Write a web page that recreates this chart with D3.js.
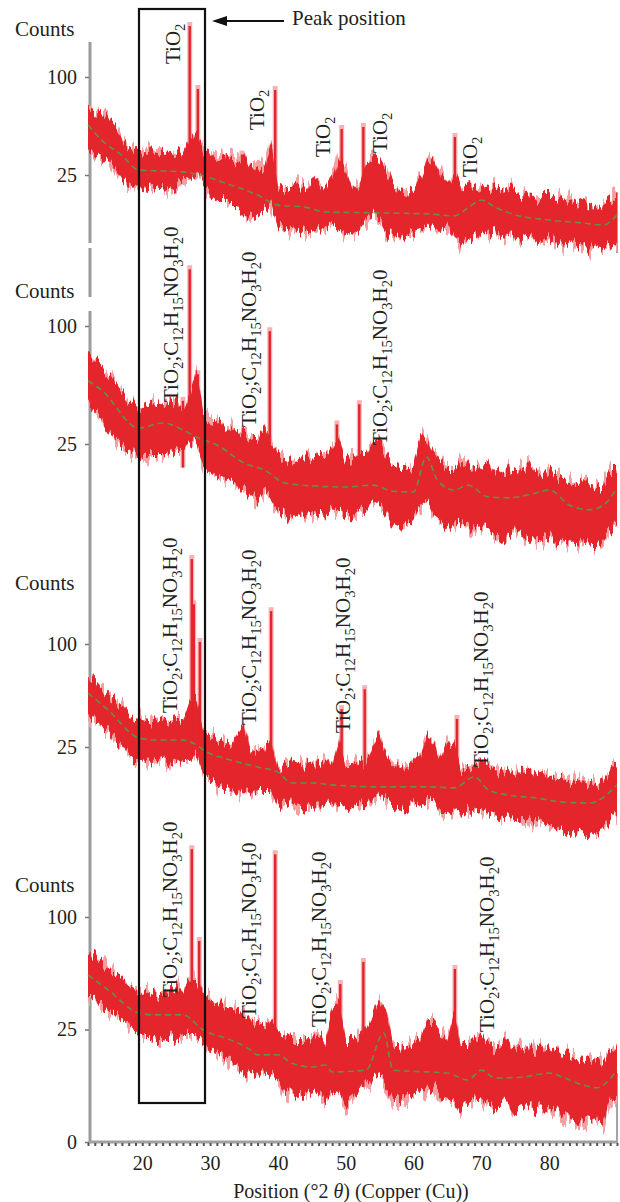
<!DOCTYPE html>
<html><head><meta charset="utf-8">
<script src="https://cdn.jsdelivr.net/npm/d3@7"></script>
<style>
body{margin:0;background:#fff;}
svg{display:block;}
text{font-family:"Liberation Serif","DejaVu Serif","Times New Roman",serif;fill:#231f20;}
</style></head><body>
<svg id="c" width="620" height="1202"></svg>
<script>
// ---------- DATA ----------
const degrees = [12,13,14,15,16,17,18,19,20,21,22,23,24,25,26,27,28,29,30,31,32,33,34,35,36,37,38,39,40,41,42,43,44,45,46,47,48,49,50,51,52,53,54,55,56,57,58,59,60,61,62,63,64,65,66,67,68,69,70,71,72,73,74,75,76,77,78,79,80,81,82,83,84,85,86,87,88,89,90];
const xTickLabels = [20,30,40,50,60,70,80];
const panelTicks = [[25,100],[25,100],[25,100],[0,25,100]];

// panel 1 (upper / lower envelope of the noisy pattern, counts)
const p1Hi = [71,69,67,61,55,47,41,38,39,38,39,37.5,38,39,36,46,53,36,38,34.4,33.2,34.4,32,39,29.2,30.4,27.6,43,20.2,17.9,17.9,20.2,17.9,22.5,20.2,17.9,22.5,36,27.6,17.9,20.2,30.4,33.2,34.4,27.6,20.2,17.9,17.1,17.9,22.5,30.4,36,25,20.2,27.6,17.9,20.2,17.9,20.2,17.9,18.8,17.1,18.8,17.9,15.8,16.7,13.9,15.8,15.8,13.9,14.6,13.9,12,13.1,12,11,12,13.9,15.8];
const p1Lo = [39,39,35,32,27.6,22.5,20.2,17.9,19.3,18.8,19.7,18.8,17.9,19.7,22.5,22.5,26.5,20.2,15.8,13.9,13.9,12,12,8.8,8.2,8.8,10.3,12,6,5.3,4.8,4.4,4.8,4.2,4.8,5.3,6,4.8,4.4,3.8,4.8,7.3,8.8,7.3,3.8,3.8,3.2,3.8,4.4,4.8,5.3,6,4.4,6,3.8,2,2.8,3.2,4.4,3.8,4.4,3.2,4.4,2.8,3.2,3.8,2.8,2.5,3.2,2.5,2,2.8,2,2,1.4,2,1.6,2,2];
const p1Peaks = [[27.0,164,27.6],[28.2,92,30],[34.7,39,20],[39.6,91,12],[39.0,43,15],[49.4,57,10],[52.6,58.6,10],[66.1,51,10]];
const p1Bg = [[12,57],[14,46],[17,36],[19.5,27.6],[26,26.6],[29,24.5],[33,20.2],[37,15.8],[40,12],[44,11.3],[47,9.7],[55,9.4],[62,9.1],[66,8.5],[68,11],[70,13.9],[72,11.3],[75,8.8],[80,7.3],[85,6.5],[88,6],[90,8.8]];

// panel 2
const p2Hi = [75.5,73,70,63,59,53,47,44,41.5,44,45,44,45,47,41.5,50,66,38.8,37.2,36.2,33.7,32.2,31.3,30.3,26.7,26.7,31.3,24.6,20.6,18.7,18,18.7,20.6,18.7,20.6,20.6,24.6,26.7,18.7,19.4,20.6,20.6,26.7,26.7,20.6,16.9,15.2,15.2,16.9,29,26.7,20.6,18.7,15.2,15.2,18.7,16.9,15.2,16.9,18,15.2,13.6,15.2,15.9,15.2,16.9,15.2,12.7,15.2,13.6,12.1,11.5,10.6,12.1,10.6,9.8,10.6,15.2,15.2];
const p2Lo = [44,41.5,36.2,31.3,26.7,24.6,22.5,20.6,19.4,20.6,20.6,20.6,21.3,22.5,22.5,26.7,24.6,16.9,15.2,13.6,12.7,12.1,10.6,9.3,8.1,6.9,9.3,6.9,4.9,4,3.2,4,4,4.5,4,4,4.9,4.9,4,3.5,4.9,4.9,6.9,5.8,4,2.5,2.1,2.5,3.2,5.8,6.9,4,3.2,1.8,2.5,2.9,2.5,1.8,2.1,2.1,1.3,0.87,1.3,1.8,1.3,0.87,1.0,0.87,1.3,0.52,0.87,0.72,0.52,0.87,0.52,0.52,0.87,1.8,2.5];
const p2Peaks = [[27.0,158,26.7],[26.0,49,16],[28.2,66,26],[38.8,99,25],[48.7,36,12],[52.0,47,12]];
const p2Bg = [[12,59],[14,53],[19.5,32.2],[23,34.7],[26,31.3],[28,28],[31,24.6],[35,17.6],[38,15.2],[41,11.2],[45,10.4],[50,10.1],[54,10.6],[57,9],[60,8.8],[61.9,19.8],[63.5,12.1],[66,9.3],[68,10.6],[71,7.6],[74,7.4],[77,8.1],[80,9.3],[83,5.8],[86,4.9],[88,5.8],[90,9.8]];

// panel 3
const p3Hi = [70.5,68,61.8,56.6,53,49.5,43,41,39.8,38.6,39.8,41,38.6,39.8,39.8,53,53,33.9,31.2,28.5,27.5,26,31.2,36.8,23.6,22.6,24.5,28.5,15.1,17,19.1,17.8,17,18.2,17,19.1,17,28.5,17,17,19.1,17,26,31.2,21.3,17,15.8,17,19.1,21.3,31.2,26,19.1,28.5,26,15.1,15.1,17,19.1,17,15.1,14.3,15.1,13.3,15.8,15.1,13.3,14.3,13.3,11.5,12.2,11.5,10.9,11.5,10,10,10.9,15.1,17];
const p3Lo = [43,39.8,36.8,33.9,28.5,26,21.3,19.1,19.1,18.2,19.1,19.9,17,18.2,19.1,19.1,21.3,13.3,11.5,10,8.5,8.5,7.1,8.5,7.1,8.5,8.5,8.5,4.8,4.8,5.9,4.8,4.2,4.8,4.2,4.8,4.8,5.9,4.8,3.8,5.9,4.8,5.9,7.1,5.9,4.2,3.8,4.2,5.9,4.8,5.9,5.9,2.9,2.9,3.8,2.9,3.8,3.8,4.2,3.4,2.9,2.4,2.9,2.1,2.4,2.1,1.8,2.1,1.5,0.94,0.76,0.94,0.53,0.94,0.53,0.76,0.94,2.1,2.9];
const p3Peaks = [[27.3,205,21],[27.6,147,21],[28.5,106,23],[39.0,139,19],[49.4,49.5,6],[52.8,64,6],[66.4,43,5]];
const p3Bg = [[12,58],[15,46],[19.5,29.6],[22,28.5],[26,28.5],[28,26],[29,23.6],[33,19.1],[37,16.2],[40,14.3],[42,10.6],[45,10.6],[48,10],[55,9.4],[62,9.4],[66,9.1],[69,12.6],[71,8.5],[74,7.1],[78,6.4],[82,5.4],[86,5.2],[90,10]];

// panel 4
const p4Hi = [67.6,69,64,58.4,55.1,53.1,48.7,45.6,42.7,44.4,42.7,42.7,45.6,48.7,44.4,51.8,51.8,42.7,39.8,38.2,37.1,35.5,34.4,31.9,29.4,27,27,29.4,24.8,22.6,20.6,20.6,20.6,21.4,22.6,20.6,34.4,39.8,20.6,20.6,22.6,24.8,31.9,39.8,34.4,18.6,16.7,17.5,18.6,20.6,29.4,29.4,22.6,20.6,34.4,18.6,18.6,20.6,22.6,18.6,16.7,18.6,20.6,18.6,16.7,17.5,16.7,18.6,16.7,17.5,15,15,13.9,13.3,12.6,13.3,11.7,16.7,18.6];
const p4Lo = [42.7,39.8,37.1,34.4,31.9,29.4,27,24.8,22.6,22.6,20.6,20.6,22.6,20.6,22.6,22.6,22.6,18.6,16.7,16,13.9,13.3,11.7,10.2,8.9,8.1,10.2,8.9,7.6,5.3,4.4,4.4,4.4,4.4,4.9,3.8,5.3,4.9,2.7,3.5,5.3,6.4,7.6,8.9,6.4,3.5,3.5,3.8,4.4,5.3,5.3,6.4,4.4,3.5,3.5,2,2.7,3.5,3.8,2.7,2,2.7,3.5,2,2.3,2.7,2,2.7,2,2.3,1.4,0.96,1.1,0.96,0.79,0.96,0.57,3.5,4.4];
const p4Peaks = [[27.3,174,25],[28.4,83,25],[39.6,168,15],[49.2,51.8,6],[52.6,66.9,6],[66.1,61.9,5]];
const p4Bg = [[12,55.1],[15,45.6],[19.5,32.9],[22,31.9],[26,31.9],[29,24.8],[33,20.6],[36,16.7],[37,15],[40,15],[42,12.3],[45,11.1],[47,11.7],[48,9.7],[53,10.2],[55.6,23.5],[57,10.2],[62,9.7],[65,9.4],[68,7.6],[70,10.2],[72,8.1],[76,8.3],[78,8.9],[80,9.4],[82,8.3],[85,6.4],[87,5.8],[90,10.2]];

const formulaTiO2 = "TiO{2}";
const formulaMix = "TiO{2};C{12}H{15}NO{3}H{2}0";
const panelLabels = [
  [formulaTiO2, formulaTiO2, formulaTiO2, formulaTiO2, formulaTiO2],
  [formulaMix, formulaMix, formulaMix],
  [formulaMix, formulaMix, formulaMix, formulaMix],
  [formulaMix, formulaMix, formulaMix, formulaMix]
];
const yTitle = "Counts";
const peakNote = "Peak position";

// ---------- LAYOUT ----------
const layout = {
  xLeft: 88, xRight: 617, axisX: 90, xAxisY: 1142,
  panels: [
    {y0: 273, y100: 77, countsY: 36},
    {y0: 562, y100: 326, countsY: 298},
    {y0: 850, y100: 644, countsY: 590},
    {y0: 1142, y100: 917, countsY: 892}
  ],
  labelAnchors: [
    [[180,64],[264,130],[330,157],[387,153],[477,177]],
    [[178,402],[256,427],[387,445]],
    [[177,713],[256,725],[350,733],[488,767]],
    [[177,997],[256,1018],[326,1027],[494,1032]]
  ],
  axisSegments: [[42,243],[248,297],[311,1143]],
  rightSegments: [[192,253],[1073,1143]],
  box: {x: 139, y: 9, w: 66, h: 1094}
};

const panelsData = [
  {hi: p1Hi, lo: p1Lo, peaks: p1Peaks, bg: p1Bg},
  {hi: p2Hi, lo: p2Lo, peaks: p2Peaks, bg: p2Bg},
  {hi: p3Hi, lo: p3Lo, peaks: p3Peaks, bg: p3Bg},
  {hi: p4Hi, lo: p4Lo, peaks: p4Peaks, bg: p4Bg}
];

// ---------- DRAW ----------
const svg = d3.select("#c");
const SERIF = "Liberation Serif, DejaVu Serif, serif";
const x = d3.scaleLinear().domain([12, 90]).range([layout.xLeft, layout.xRight]);

const RED = "#e4252b", PINK = "#f3a0a3", GREEN = "#3fae52";

// texture filters (visual jitter of the band edges, vertical streaks)
const defs = svg.append("defs");
function jitterFilter(id, seed, scale, freqX) {
  const f = defs.append("filter").attr("id", id)
    .attr("x", "-2%").attr("y", "-40%").attr("width", "104%").attr("height", "180%")
    .attr("color-interpolation-filters", "sRGB");
  f.append("feTurbulence").attr("type", "fractalNoise")
    .attr("baseFrequency", `${freqX} 0.004`).attr("numOctaves", 2).attr("seed", seed).attr("result", "t");
  f.append("feColorMatrix").attr("in", "t").attr("type", "matrix")
    .attr("values", "0 0 0 0 0.5  2.2 0 0 0 -0.6  0 0 0 0 0  0 0 0 0 1").attr("result", "m");
  f.append("feDisplacementMap").attr("in", "SourceGraphic").attr("in2", "m")
    .attr("scale", scale).attr("xChannelSelector", "R").attr("yChannelSelector", "G");
}
jitterFilter("jitPink", 7, 22, 0.26);
jitterFilter("jitRed", 3, 13, 0.3);

function chemText(g, str, fs) {
  const t = g.append("text").attr("font-size", fs).attr("font-family", SERIF);
  const tokens = str.split(/(\{[^}]+\})/).filter(s => s.length);
  let prevSub = false;
  const shift = fs * 0.26;
  tokens.forEach(tok => {
    const isSub = tok.startsWith("{");
    const ts = t.append("tspan").text(isSub ? tok.slice(1, -1) : tok);
    if (isSub) { ts.attr("font-size", fs * 0.7).attr("dy", prevSub ? 0 : shift); }
    else if (prevSub) { ts.attr("dy", -shift); }
    prevSub = isSub;
  });
  return t;
}

// axis lines (gray)
const axG = svg.append("g");
layout.axisSegments.forEach(s => {
  axG.append("line").attr("x1", layout.axisX).attr("x2", layout.axisX)
    .attr("y1", s[0]).attr("y2", s[1]).attr("stroke", "#9b9b9b").attr("stroke-width", 3);
});
layout.rightSegments.forEach(s => {
  axG.append("line").attr("x1", layout.xRight).attr("x2", layout.xRight)
    .attr("y1", s[0]).attr("y2", s[1]).attr("stroke", "#a5a5a5").attr("stroke-width", 2);
});

panelsData.forEach((pd, i) => {
  const P = layout.panels[i];
  const y = d3.scaleSqrt().domain([0, 100]).range([P.y0, P.y100]);
  const g = svg.append("g");

  const rows = degrees.map((d, k) => ({d, hi: pd.hi[k], lo: pd.lo[k]}));
  const area = d3.area().x(r => x(r.d)).y0(r => y(r.lo)).y1(r => y(r.hi)).curve(d3.curveLinear);

  // light fringe
  g.append("path").datum(rows).attr("d", area)
    .attr("fill", PINK).attr("filter", "url(#jitPink)");

  // peaks halo
  g.selectAll(".ph").data(pd.peaks).join("line")
    .attr("x1", p => x(p[0])).attr("x2", p => x(p[0]))
    .attr("y1", p => y(p[2])).attr("y2", p => y(p[1]))
    .attr("stroke", PINK).attr("stroke-width", 5).attr("stroke-opacity", 0.8);

  // core band
  g.append("path").datum(rows).attr("d", area)
    .attr("fill", RED).attr("filter", "url(#jitRed)");

  g.selectAll(".pk").data(pd.peaks).join("line")
    .attr("x1", p => x(p[0])).attr("x2", p => x(p[0]))
    .attr("y1", p => y(p[2])).attr("y2", p => y(p[1]) + 4)
    .attr("stroke", RED).attr("stroke-width", 2.4);

  const bgLine = d3.line().x(p => x(p[0])).y(p => y(p[1])).curve(d3.curveMonotoneX);
  g.append("path").datum(pd.bg).attr("d", bgLine)
    .attr("fill", "none").attr("stroke", GREEN).attr("stroke-width", 1.6)
    .attr("stroke-dasharray", "6,4").attr("opacity", 0.8);

  // y axis ticks
  const ax = d3.axisLeft(y).tickValues(panelTicks[i]).tickSize(4).tickPadding(8).tickFormat(d3.format("d"));
  const ag = svg.append("g").attr("transform", `translate(${layout.axisX - 1},0)`).call(ax);
  ag.select(".domain").remove();
  ag.selectAll(".tick line").attr("stroke", "#777").attr("stroke-width", 1.5);
  ag.selectAll(".tick text").attr("font-size", 20).attr("fill", "#231f20").attr("font-family", SERIF);

  svg.append("text").attr("x", 15).attr("y", P.countsY).attr("font-size", 21)
    .attr("font-family", SERIF).text(yTitle);

  // annotation labels
  panelLabels[i].forEach((lab, j) => {
    const a = layout.labelAnchors[i][j];
    const lg = svg.append("g").attr("transform", `translate(${a[0]},${a[1]}) rotate(-90)`);
    chemText(lg, lab, 21);
  });
});

// x axis
const xg = svg.append("g").attr("transform", `translate(0,${layout.xAxisY})`);
xg.append("line").attr("x1", layout.axisX - 1).attr("x2", layout.xRight)
  .attr("y1", 0).attr("y2", 0).attr("stroke", "#a0a0a0").attr("stroke-width", 3);
const minor = xg.append("g").attr("transform", "translate(0,1)")
  .call(d3.axisBottom(x).tickValues(degrees).tickSize(3).tickFormat(""));
minor.select(".domain").remove();
minor.selectAll(".tick line").attr("stroke", "#555").attr("stroke-width", 2);
const major = xg.append("g").call(d3.axisBottom(x).tickValues(xTickLabels).tickSize(0).tickPadding(14));
major.select(".domain").remove();
major.selectAll(".tick text").attr("font-size", 20).attr("fill", "#231f20").attr("font-family", SERIF);

const xt = svg.append("text").attr("x", 351).attr("y", 1198).attr("text-anchor", "middle")
  .attr("font-size", 20).attr("font-family", SERIF);
xt.append("tspan").text("Position (°2 ");
xt.append("tspan").attr("font-style", "italic").text("θ");
xt.append("tspan").text(") (Copper (Cu))");

// box
svg.append("rect").attr("x", layout.box.x).attr("y", layout.box.y)
  .attr("width", layout.box.w).attr("height", layout.box.h)
  .attr("fill", "none").attr("stroke", "#111").attr("stroke-width", 2.2);

// arrow + note
svg.append("line").attr("x1", 284).attr("x2", 222).attr("y1", 21).attr("y2", 21)
  .attr("stroke", "#111").attr("stroke-width", 2);
svg.append("path").attr("d", "M212,21 L227,16 L227,26 Z").attr("fill", "#111");
svg.append("text").attr("x", 292).attr("y", 25).attr("font-size", 21)
  .attr("font-family", SERIF).text(peakNote);
</script>
</body></html>
